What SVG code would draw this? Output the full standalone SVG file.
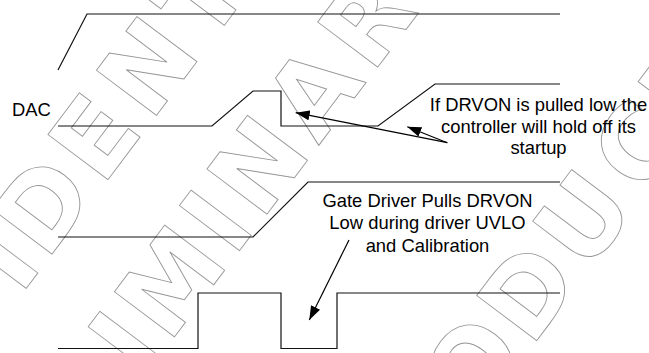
<svg xmlns="http://www.w3.org/2000/svg" width="649" height="353" viewBox="0 0 649 353">
<style>
.wm{font-family:"DejaVu Sans",sans-serif;font-weight:bold;font-size:103px;fill:none;stroke:#959595;stroke-width:0.9}
.sig{fill:none;stroke:#111;stroke-width:1.2}
.lbl{font-family:"Liberation Sans",Arial,sans-serif;font-size:18.4px;fill:#000}
.ldr{stroke:#000;stroke-width:1.2;fill:none}
</style>
<defs>
<marker id="ah" markerWidth="14" markerHeight="10" refX="14" refY="5" orient="auto" markerUnits="userSpaceOnUse"><path d="M0,0 L14,5 L0,10 z" fill="#000"/></marker>
</defs>
<rect width="649" height="353" fill="#fff"/>
<g id="watermark">
<text class="wm" transform="translate(148.2,126.4) rotate(-53)" x="-563.4 -477.6 -381.9 -288.4 -212.3 -169.4 -76.3 4.4 101 180.3 226.1 315.5" y="0">CONFIDENTIAL</text>
<text class="wm" transform="translate(258.7,225.3) rotate(-53)" x="-522.1 -438.5 -348.5 -267 -193.2 -149.3 -41.3 4.4 99.5 188.4 279.4" y="0">PRELIMINARY</text>
<text class="wm" transform="translate(530.1,349.5) rotate(-53)" x="-262.6 -179 -91.3 1.6 94.4 190.3 278.4" y="0">PRODUCT</text>
</g>
<g id="signal1"><path class="sig" d="M58,70 L87,14 L560,14"/></g>
<g id="signal-dac"><path class="sig" d="M58,126 L212,126 L253,91 L281,91 L281,126 L378,126 L435,84 L560,84"/>
<text class="lbl" x="12" y="116">DAC</text></g>
<g id="signal3"><path class="sig" d="M58,237 L253,237 L308,182 L560,182"/></g>
<g id="signal-drvon"><path class="sig" d="M58,348.5 L198,348.5 L198,293 L281,293 L281,348.5 L337,348.5 L337,293 L560,293"/></g>
<g id="note1" text-anchor="middle">
<text class="lbl" x="538.5" y="111">If DRVON is pulled low the</text>
<text class="lbl" x="538.5" y="132.5">controller will hold off its</text>
<text class="lbl" x="538.5" y="154">startup</text>
</g>
<g id="note2" text-anchor="middle">
<text class="lbl" x="427.5" y="206.5">Gate Driver Pulls DRVON</text>
<text class="lbl" x="427.5" y="229">Low during driver UVLO</text>
<text class="lbl" x="427.5" y="251.5">and Calibration</text>
</g>
<g id="connectors">
<line class="ldr" x1="447.3" y1="142.7" x2="295.7" y2="112.7" marker-end="url(#ah)"/>
<line class="ldr" x1="447.3" y1="142.7" x2="407.3" y2="126.7" marker-end="url(#ah)"/>
<line class="ldr" x1="349" y1="240" x2="309.3" y2="320" marker-end="url(#ah)"/>
</g>
</svg>
